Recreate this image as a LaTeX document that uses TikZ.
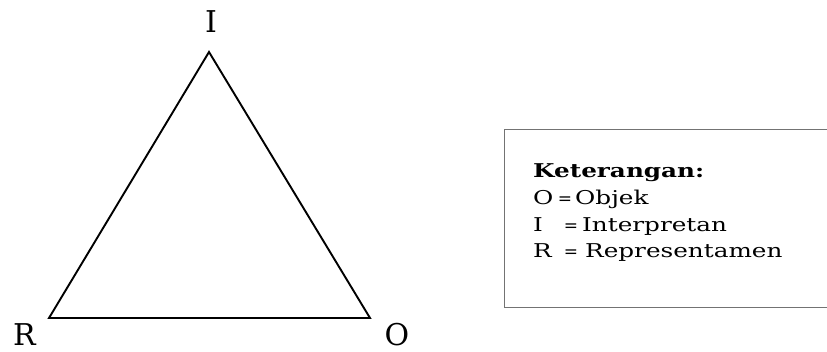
\documentclass[tikz,border=0pt]{standalone}
\usepackage{fontspec}
\setmainfont{DejaVu Serif}
\newfontfamily\legendfont[FakeStretch=1.3]{DejaVu Serif}
\begin{document}
\begin{tikzpicture}[x=1pt,y=-1pt,
  vlabel/.style={inner sep=0pt,anchor=base,font=\fontsize{30}{30}\selectfont},
  legend/.style={inner sep=0pt,anchor=base west,font=\legendfont\fontsize{19}{19}\selectfont},
  eqsign/.style={inner sep=0pt,anchor=base,font=\fontsize{17}{17}\selectfont},
  edge/.style={line width=1.9pt,line join=miter},
  legendbox/.style={draw=black!55,line width=1.4pt}]
\useasboundingbox (0,0) rectangle (827,351);
\clip (0,0) rectangle (827,351);
\coordinate (cI) at (209,52);
\coordinate (cR) at (49,318);
\coordinate (cO) at (370,318);
\draw[edge] (cI) -- (cO) -- (cR) -- cycle;
\node[vlabel] (lI) at (211,32) {I};
\node[vlabel] (lR) at (24.5,345) {R};
\node[vlabel] (lO) at (397,345) {O};
\node[legendbox,minimum width=340pt,minimum height=178pt,anchor=north west,inner sep=0pt] (box) at (504,129) {};
\node[legend,font=\legendfont\fontsize{19}{19}\selectfont\bfseries] (k) at (533,177) {Keterangan:};
\node[legend] (o1) at (533,204) {O};
\node[eqsign] (o2) at (565,204) {=};
\node[legend] (o3) at (575,204) {Objek};
\node[legend] (i1) at (533,231) {I};
\node[eqsign] (i2) at (571,231) {=};
\node[legend] (i3) at (582,231) {Interpretan};
\node[legend] (r1) at (533,257) {R};
\node[eqsign] (r2) at (571,257) {=};
\node[legend] (r3) at (585,257) {Representamen};
\end{tikzpicture}
\end{document}
